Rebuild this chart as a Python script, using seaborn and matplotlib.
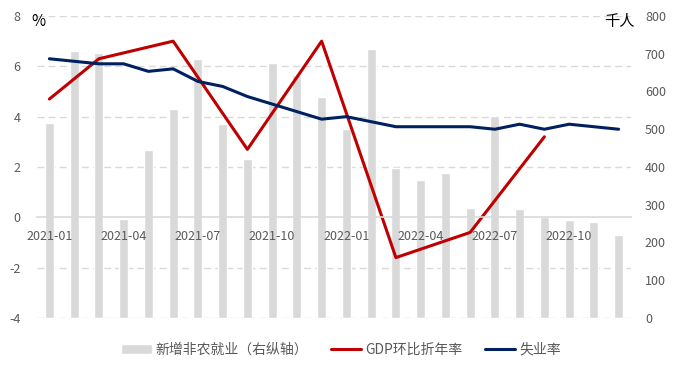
import numpy as np
import pandas as pd
import seaborn as sns
import matplotlib.pyplot as plt
from matplotlib.transforms import blended_transform_factory

# 数据
months = [f"{y}-{m:02d}" for y in (2021, 2022) for m in range(1, 13)]
payrolls = [516, 707, 702, 263, 445, 554, 686, 514, 421, 675, 644, 585,
            500, 713, 397, 366, 384, 291, 535, 289, 268, 260, 254, 220]
unemployment = [6.3, 6.2, 6.1, 6.1, 5.8, 5.9, 5.4, 5.2, 4.8, 4.5, 4.2, 3.9,
                4.0, 3.8, 3.6, 3.6, 3.6, 3.6, 3.5, 3.7, 3.5, 3.7, 3.6, 3.5]
gdp_months = ["2021-01", "2021-03", "2021-06", "2021-09", "2021-12",
              "2022-03", "2022-06", "2022-09"]
gdp_qoq = [4.7, 6.3, 7.0, 2.7, 7.0, -1.6, -0.6, 3.2]
label_months = ["2021-01", "2021-04", "2021-07", "2021-10",
                "2022-01", "2022-04", "2022-07", "2022-10"]

df = pd.DataFrame({"month": months, "payrolls": payrolls, "unemp": unemployment})
df["pos"] = np.arange(len(df))
gdp = pd.DataFrame({"month": gdp_months, "gdp": gdp_qoq})
gdp["pos"] = gdp["month"].map(dict(zip(df["month"], df["pos"])))

sns.set_style("white")
plt.rcParams["font.family"] = ["Noto Sans CJK SC", "DejaVu Sans"]
plt.rcParams["axes.unicode_minus"] = False

grey = "#D9D9D9"
txt = "#595959"
red = "#C00000"
navy = "#002060"

fig, ax = plt.subplots(figsize=(6.78, 3.71), dpi=100)
fig.subplots_adjust(left=0.0546, right=0.9307, top=0.9569, bottom=0.1429)
ax2 = ax.twinx()

# 柱状图：新增非农（右轴）
sns.barplot(data=df, x="month", y="payrolls", color=grey, width=0.37,
            saturation=1, ax=ax2, label="新增非农就业（右纵轴）", zorder=1)
ax2.set_ylim(0, 800)
ax2.set_yticks(range(0, 801, 100))
ax2.tick_params(axis="y", length=0, pad=10, labelsize=9, labelcolor=txt)
ax2.set_ylabel("")
ax2.set_xlabel("")
for s in ax2.spines.values():
    s.set_visible(False)

# 折线：左轴
sns.lineplot(data=gdp, x="pos", y="gdp", color=red, linewidth=2.2, ax=ax,
             label="GDP环比折年率")
sns.lineplot(data=df, x="pos", y="unemp", color=navy, linewidth=2.2, ax=ax,
             label="失业率")
ax.set_zorder(ax2.get_zorder() + 1)
ax.patch.set_visible(False)

ax.set_ylim(-4, 8)
ax.set_yticks(range(-4, 9, 2))
ax.set_xlim(-0.5, len(months) - 0.5)
ax.tick_params(axis="y", length=0, pad=12, labelsize=9, labelcolor=txt)
ax.set_xlabel("")
ax.set_ylabel("")

# 网格线画在柱子后面
tr = blended_transform_factory(ax2.transAxes, ax.transData)
ax2.hlines([-4, -2, 2, 4, 6, 8], 0, 1, transform=tr, colors=grey,
           linestyles=(0, (5, 3)), linewidth=1, zorder=0.5)

# x 轴放在 0 处
for k in ["left", "right", "top"]:
    ax.spines[k].set_visible(False)
ax.spines["bottom"].set_position(("data", 0))
ax.spines["bottom"].set_color(grey)
ax.spines["bottom"].set_linewidth(1.2)
ax.set_xticks(np.arange(-0.5, len(months), 3))
ax.set_xticklabels([])
ax.tick_params(axis="x", which="major", direction="out", length=4,
               color=grey, width=1.2)
lab_pos = [months.index(m) for m in label_months]
ax.set_xticks(lab_pos, minor=True)
ax.set_xticklabels(label_months, minor=True)
ax.tick_params(axis="x", which="minor", length=0, pad=9, labelsize=9,
               labelcolor=txt)

ax.text(0.002, 0.983, "%", transform=ax.transAxes, ha="center", va="center",
        fontsize=11, color="black")
ax.text(0.981, 0.983, "千人", transform=ax.transAxes, ha="center",
        va="center", fontsize=11, color="black")

# 图例
h1, l1 = ax2.get_legend_handles_labels()
h2, l2 = ax.get_legend_handles_labels()
if ax2.get_legend():
    ax2.get_legend().remove()
ax.legend(h1 + h2, l1 + l2, loc="lower center", bbox_to_anchor=(0.503, 0.005),
          bbox_transform=fig.transFigure, ncol=3, frameon=False, fontsize=10,
          labelcolor=txt, handlelength=2.2, columnspacing=1.6,
          handletextpad=0.3)

fig.savefig("out.png", dpi=100)
